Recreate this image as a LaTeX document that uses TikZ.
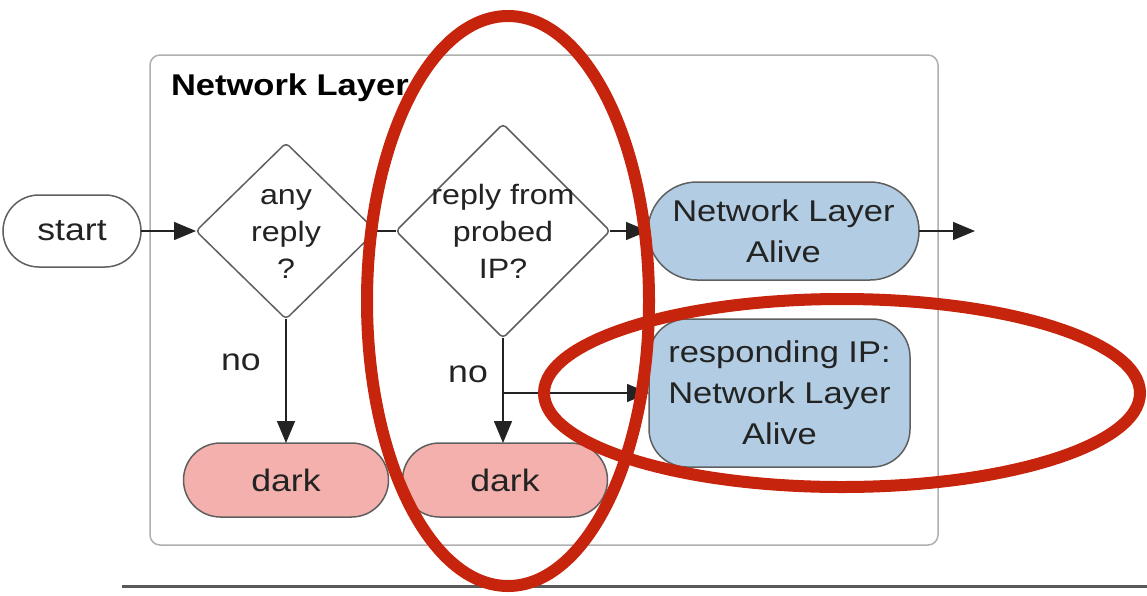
\documentclass[tikz,border=0pt]{standalone}
\usepackage{fontspec}
\setmainfont[FakeStretch=1.15]{Liberation Sans}
\usetikzlibrary{shapes.geometric,arrows.meta,calc}
\definecolor{hlred}{RGB}{198,36,12}
\definecolor{boxblue}{RGB}{178,205,227}
\definecolor{boxpink}{RGB}{244,176,172}
\definecolor{edgegray}{RGB}{95,95,95}
\definecolor{framegray}{RGB}{175,175,175}
\definecolor{inkgray}{RGB}{35,35,35}
\begin{document}
\begin{tikzpicture}[x=1pt,y=-1pt,
  every node/.style={inner sep=0pt, outer sep=0pt, text=inkgray},
  conn/.style={line width=1.5pt, draw=inkgray},
  arr/.style={conn, -{Triangle[length=22pt,width=18pt]}},
  decision/.style={diamond, draw=edgegray, line width=1.5pt, rounded corners=4pt, fill=white},
  dlabel/.style={align=center, font=\fontsize{28}{37}\selectfont},
  terminal/.style={draw=edgegray, line width=1.5pt, font=\fontsize{31}{37}\selectfont},
  alive/.style={draw=edgegray, line width=1.5pt, fill=boxblue, align=center, font=\fontsize{30}{41}\selectfont},
  darkbox/.style={terminal, fill=boxpink, minimum width=205pt, minimum height=74pt, rounded corners=37pt},
  nolabel/.style={font=\fontsize{31}{37}\selectfont},
  highlight/.style={ellipse, draw=hlred, line width=12pt},
]
\path[use as bounding box] (0,0) rectangle (1147,595);

% container
\node[draw=framegray, line width=1.5pt, rounded corners=10pt, minimum width=788pt, minimum height=490pt] (layer) at (544,300) {};
\node[anchor=base west, font=\bfseries\fontsize{30}{36}\selectfont, text=black] (title) at (171,95) {Network Layer};

% nodes
\node[terminal, fill=white, minimum width=138pt, minimum height=72pt, rounded corners=36pt] (start) at (72,231) {start};
\node[decision, minimum width=180pt, minimum height=176pt,
      label={[dlabel]center:{\vphantom{ly}any\\reply\\?}}] (d1) at (286,231) {};
\node[decision, minimum width=214pt, minimum height=214pt,
      label={[dlabel]center:{reply from\\probed\\IP?}}] (d2) at (503,231) {};
\node[alive, minimum width=271pt, minimum height=98pt, rounded corners=49pt] (alive1) at (783.5,231) {Network Layer\\Alive};
\node[alive, minimum width=261pt, minimum height=148pt, rounded corners=38pt] (alive2) at (779.5,393) {responding IP:\\Network Layer\\Alive};
\node[darkbox] (dark1) at (286,480) {dark};
\node[darkbox] (dark2) at (505,480) {dark};
\node[nolabel] (no1) at (241,362) {no};
\node[nolabel] (no2) at (468,374) {no};

\coordinate (out) at (975,231);
\coordinate (br) at (d2.south |- alive2.west);

% connectors
\draw[arr] (start.east) -- (d1.west);
\draw[conn] (d1.east) -- (d2.west);
\draw[arr] (d2.east) -- (alive1.west);
\draw[arr] (alive1.east) -- (out);
\draw[arr] (d1.south) -- (dark1.north);
\draw[arr] (d2.south) -- (d2.south |- dark2.north);
\draw[arr] (br) -- (alive2.west);

% bottom rule
\coordinate (rl) at (122,586);
\coordinate (rr) at (1147,586);
\draw[line width=3pt, draw=black!65] (rl) -- (rr);

% red highlights
\node[highlight, minimum width=282pt, minimum height=570pt] (hl1) at (508,301) {};
\node[highlight, minimum width=596pt, minimum height=188pt] (hl2) at (842,393) {};
\end{tikzpicture}
\end{document}
